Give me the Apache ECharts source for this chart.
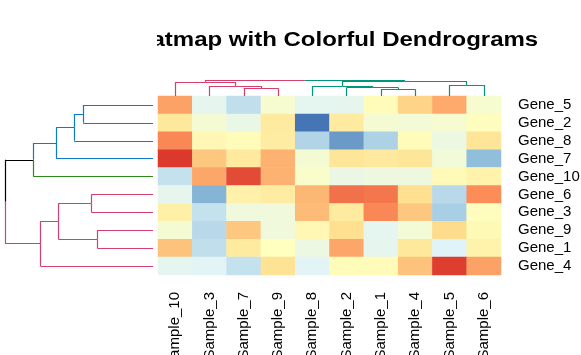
<!DOCTYPE html>
<html>
<head>
<meta charset="utf-8">
<script src="https://cdn.jsdelivr.net/npm/echarts@6/dist/echarts.min.js"></script>
<style>
html,body{margin:0;padding:0;background:#fff;}
#chart{width:581px;height:355px;}
</style>
</head>
<body>
<div id="chart"></div>
<script>
// ---- Data ----
const chartTitle = 'Heatmap with Colorful Dendrograms';
const genes = ['Gene_5','Gene_2','Gene_8','Gene_7','Gene_10','Gene_6','Gene_3','Gene_9','Gene_1','Gene_4'];
const samples = ['Sample_10','Sample_3','Sample_7','Sample_9','Sample_8','Sample_2','Sample_1','Sample_4','Sample_5','Sample_6'];
const gene5  = [1.75,-0.8,-1.4,-0.3,-0.85,-0.8,0.1,1.15,1.65,-0.3];
const gene2  = [0.75,-0.35,-0.7,0.65,-3.0,0.65,-0.35,-0.4,-0.3,0.05];
const gene8  = [2.05,0.25,0.1,0.6,-1.6,-2.5,-1.65,0.1,-0.6,0.85];
const gene7  = [2.9,1.3,0.7,1.55,-0.35,0.8,0.7,0.8,-0.45,-2.0];
const gene10 = [-1.35,1.7,2.7,1.55,-0.2,-0.65,-0.55,-0.55,0.15,0.4];
const gene6  = [-0.8,-2.15,0.45,0.6,1.5,2.3,2.25,1.0,-1.5,2.0];
const gene3  = [0.5,-1.35,-0.5,-0.5,1.45,0.65,2.05,1.3,-1.7,0.05];
const gene9  = [-0.35,-1.5,1.3,-0.5,0.25,1.0,-0.85,-0.4,1.05,0.2];
const gene1  = [1.35,-1.4,0.65,0.0,-0.6,1.7,-0.8,0.75,-1.0,0.4];
const gene4  = [-0.85,-0.95,-1.35,0.9,-0.95,0.1,0.1,1.35,2.85,1.75];
const heatRows = [gene5,gene2,gene8,gene7,gene10,gene6,gene3,gene9,gene1,gene4];
const palette = ['#4575b4','#91bfdb','#e0f3f8','#ffffbf','#fee090','#fc8d59','#d73027'];

// dendrograms: leaves are indices in display order, h = merge height (root = 10)
const rowTree = {h:10, c:[
  {h:8.09, c:[{h:6.53, c:[{h:5.32, c:[{h:4.71, c:[0,1]}, 2]}, 3]}, 4]},
  {h:7.61, c:[{h:6.40, c:[{h:4.17, c:[5,6]}, {h:3.76, c:[7,8]}]}, 9]}
]};
const rowLeafColors = ['#0a7bc4','#0a7bc4','#0a7bc4','#0a7bc4','#2a8a1a','#d43f6b','#d43f6b','#d43f6b','#d43f6b','#d43f6b'];
const colTree = {h:10, c:[
  {h:8.73, c:[0, {h:6.18, c:[1, {h:4.90, c:[2,3]}]}]},
  {h:9.36, c:[{h:6.18, c:[4, {h:5.29, c:[5, {h:4.27, c:[6,7]}]}]}, {h:6.82, c:[8,9]}]}
]};
const colLeafColors = ['#d43f6b','#d43f6b','#d43f6b','#d43f6b','#00967a','#00967a','#00967a','#00967a','#00967a','#00967a'];

// ---- Build ----
const heatData = [];
heatRows.forEach((row, gi) => row.forEach((v, si) => heatData.push([si, gi, v])));

function layout(node, colors) {
  if (typeof node === 'number') return {pos: node + 0.5, h: 0, color: colors[node]};
  const kids = node.c.map(k => layout(k, colors));
  const pos = kids.reduce((a, k) => a + k.pos, 0) / kids.length;
  const col = kids.every(k => k.color === kids[0].color) ? kids[0].color : '#000000';
  return {pos, h: node.h, color: col, kids};
}
function segments(n, out, horiz) {
  if (!n.kids) return out;
  n.kids.forEach(k => {
    const pts = horiz
      ? [[n.h, n.pos], [n.h, k.pos], [k.h, k.pos]]
      : [[n.pos, n.h], [k.pos, n.h], [k.pos, k.h]];
    out.push({coords: [pts[0], pts[1]], lineStyle: {color: k.color}});
    out.push({coords: [pts[1], pts[2]], lineStyle: {color: k.color}});
    segments(k, out, horiz);
  });
  return out;
}
const rowSegs = segments(layout(rowTree, rowLeafColors), [], true);
const colSegs = segments(layout(colTree, colLeafColors), [], false);

const font = "'Liberation Sans', Arial, sans-serif";
const chart = echarts.init(document.getElementById('chart'), null, {renderer: 'canvas'});
chart.setOption({
  animation: false,
  backgroundColor: '#ffffff',
  grid: [
    {left: 158, right: 80, top: 96, bottom: 80, containLabel: false, outerBoundsMode: 'none'},
    {left: 5, right: 428, top: 96, bottom: 80, containLabel: false, outerBoundsMode: 'none'},
    {left: 158, right: 80, top: 80, bottom: 259, containLabel: false, outerBoundsMode: 'none'}
  ],
  xAxis: [
    {type: 'category', data: samples, gridIndex: 0, position: 'bottom',
     axisLine: {show: false}, axisTick: {show: false}, splitLine: {show: false},
     axisLabel: {rotate: 90, margin: 17, fontSize: 15, color: '#000', fontFamily: font, interval: 0}},
    {type: 'value', gridIndex: 1, min: 0, max: 10, inverse: true, show: false},
    {type: 'value', gridIndex: 2, min: 0, max: 10, show: false}
  ],
  yAxis: [
    {type: 'category', data: genes, gridIndex: 0, position: 'right', inverse: true,
     axisLine: {show: false}, axisTick: {show: false}, splitLine: {show: false},
     axisLabel: {margin: 17, fontSize: 15, color: '#000', fontFamily: font, interval: 0}},
    {type: 'value', gridIndex: 1, min: 0, max: 10, inverse: true, show: false},
    {type: 'value', gridIndex: 2, min: 0, max: 10, show: false}
  ],
  visualMap: {show: false, type: 'continuous', min: -3, max: 3, dimension: 2, seriesIndex: 0,
    inRange: {color: palette}},
  series: [
    {type: 'heatmap', xAxisIndex: 0, yAxisIndex: 0, data: heatData, itemStyle: {borderWidth: 0}},
    {type: 'lines', coordinateSystem: 'cartesian2d', xAxisIndex: 1, yAxisIndex: 1,
     data: rowSegs, lineStyle: {width: 1.2, opacity: 1}, silent: true},
    {type: 'lines', coordinateSystem: 'cartesian2d', xAxisIndex: 2, yAxisIndex: 2,
     data: colSegs, lineStyle: {width: 1.2, opacity: 1}, silent: true}
  ],
  graphic: [
    {type: 'text', x: 329.5, y: 40.5, scaleX: 1.2, z: 10,
     style: {text: chartTitle, fontSize: 20, fontWeight: 'bold', fontFamily: font,
             fill: '#000', textAlign: 'center', textVerticalAlign: 'middle', align: 'center', verticalAlign: 'middle'}},
    {type: 'rect', z: 20, shape: {x: 0, y: 15, width: 157, height: 45}, style: {fill: '#ffffff'}}
  ]
});
</script>
</body>
</html>
